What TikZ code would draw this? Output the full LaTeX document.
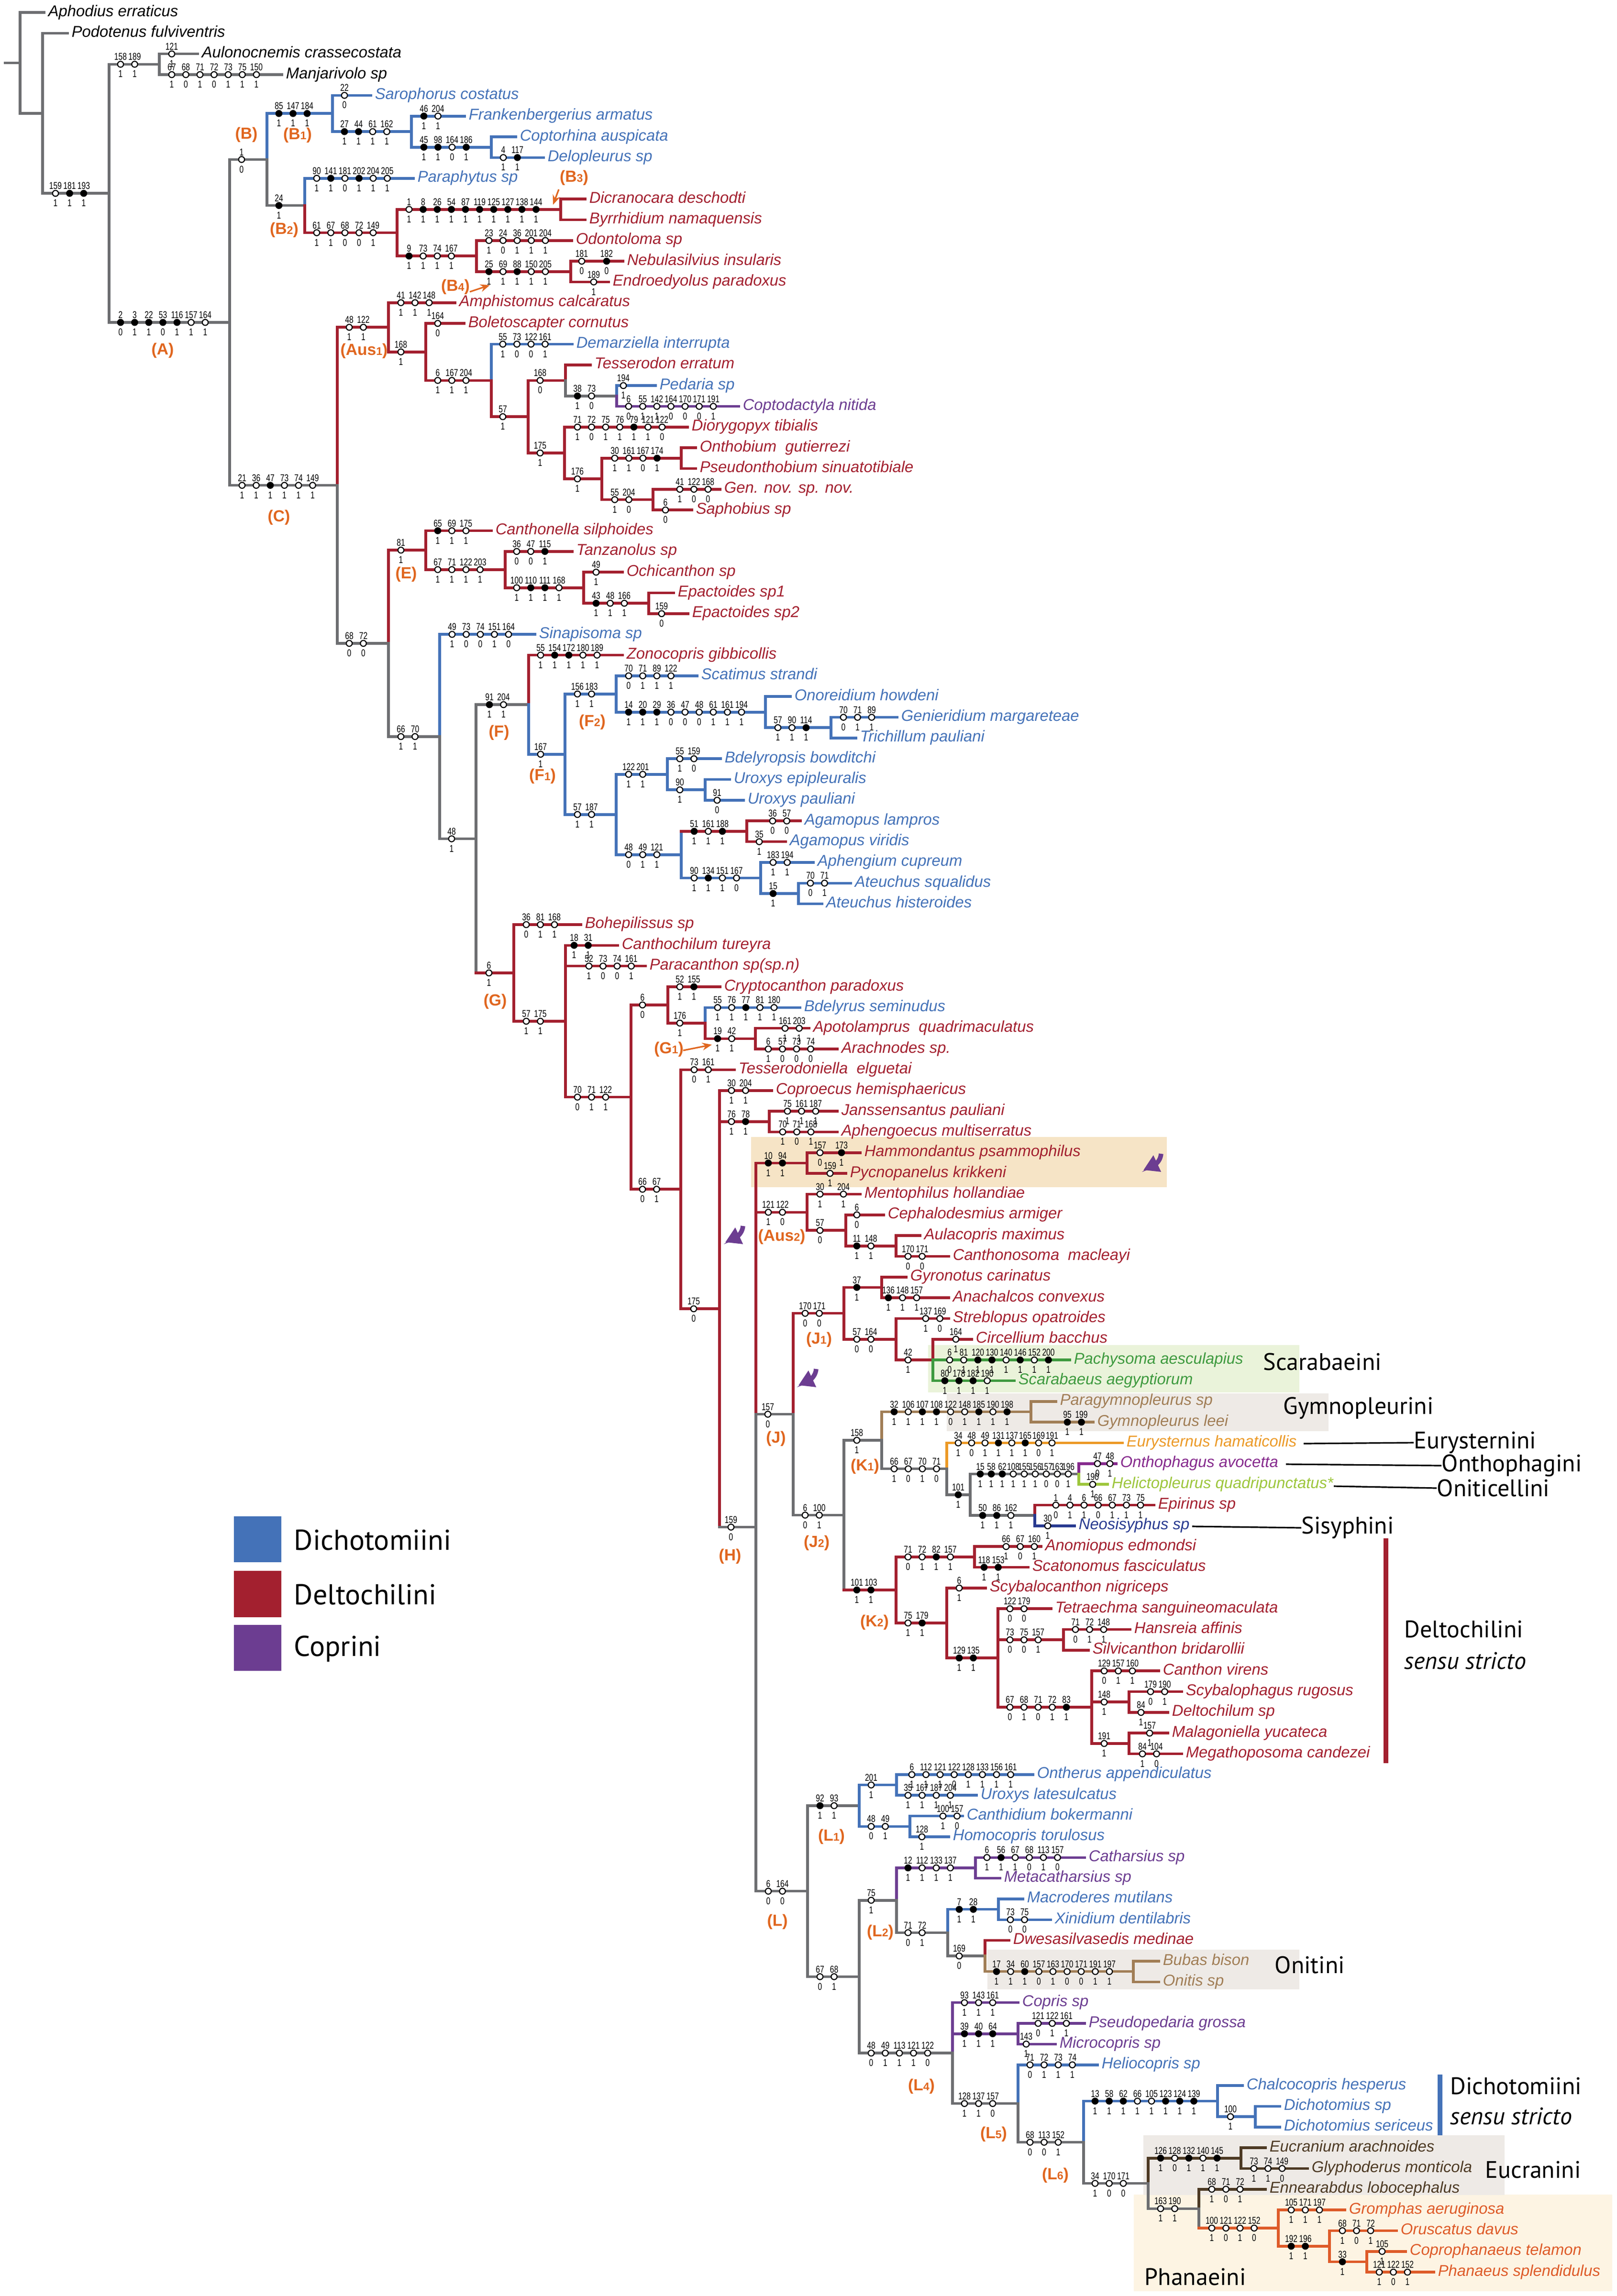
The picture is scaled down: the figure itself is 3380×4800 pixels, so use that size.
\documentclass[tikz,border=0pt]{standalone}
\usepackage{fontspec}
\setmainfont{Liberation Sans}
\newfontfamily\numfont[FakeStretch=0.75]{Liberation Sans}
\newfontfamily\tribefont{PT Sans}
\usetikzlibrary{arrows.meta}
\definecolor{cG}{HTML}{6D6E71}
\definecolor{cB}{HTML}{4472B8}
\definecolor{cR}{HTML}{A3202F}
\definecolor{cP}{HTML}{6C3D91}
\definecolor{cGr}{HTML}{3E9A3F}
\definecolor{cTn}{HTML}{A17E56}
\definecolor{cOr}{HTML}{EC9A27}
\definecolor{cMg}{HTML}{862A8D}
\definecolor{cYg}{HTML}{9DC63C}
\definecolor{cNv}{HTML}{283A90}
\definecolor{cBr}{HTML}{4D3A24}
\definecolor{cPh}{HTML}{DE5B29}
\definecolor{cL}{HTML}{E0661F}
\definecolor{cHam}{HTML}{F6E4C6}
\definecolor{cSca}{HTML}{EAF3DA}
\definecolor{cBox}{HTML}{EEEAE6}
\definecolor{cPhb}{HTML}{FDF4E3}
\tikzset{
 br/.style={line width=1.4pt, line cap=rect},
 tl/.style={font=\fontsize{8.2pt}{9pt}\selectfont\itshape, anchor=base west, inner sep=0pt, xshift=2pt, yshift=-2pt},
 co/.style={circle, draw=black, fill=white, line width=0.55pt, minimum size=3.1pt, inner sep=0pt},
 cf/.style={circle, draw=black, fill=black, line width=0.55pt, minimum size=3.1pt, inner sep=0pt},
 nt/.style={font=\numfont\fontsize{5.2pt}{6pt}\selectfont, anchor=base, inner sep=0pt, yshift=2.1pt},
 nb/.style={font=\numfont\fontsize{5.2pt}{6pt}\selectfont, anchor=base, inner sep=0pt, yshift=-6.9pt},
 clab/.style={font=\bfseries\fontsize{8.4pt}{9pt}\selectfont, text=cL, inner sep=0pt},
 trib/.style={font=\tribefont\fontsize{12.5pt}{14pt}\selectfont, anchor=west, inner sep=0pt},
 legt/.style={font=\tribefont\fontsize{15pt}{17pt}\selectfont, anchor=west, inner sep=0pt},
 parr/.style={cP, line width=2.4pt, -{Triangle[length=8pt,width=9pt]}},
 oarr/.style={cL, line width=0.8pt, -{Stealth[length=5pt,width=4pt]}}
}
\newcommand\Sb[1]{{\fontsize{5.8pt}{6pt}\selectfont #1}}
\newcommand\Hb[4]{\draw[br,#4] (#1,#3) -- (#2,#3);}
\newcommand\Vb[4]{\draw[br,#4] (#1,#2) -- (#1,#3);}
\newcommand\Tip[6]{\draw[br,#4] (#1,#3) -- (#2,#3); \node[tl,text=#5] at (#2,#3) {#6};}
\newcommand\Mk[5]{\ifnum#5=1\relax\node[cf] at (#1,#2) {};\else\node[co] at (#1,#2) {};\fi
 \node[nt] at (#1,#2) {#3}; \node[nb] at (#1,#2) {#4};}
\newcommand\Mks[4][29.5]{\foreach \ta/\ba/\fa [count=\kk from 0] in {#4}{\Mk{#2+#1*\kk}{#3}{\ta}{\ba}{\fa}}}
\begin{document}
\begin{tikzpicture}[x=0.25pt,y=-10.835pt]
\begin{scope}[y=-0.25pt,yshift=-4.335pt]
 \path[use as bounding box, fill=white] (0,0) rectangle (3380,4800);
 \fill[cHam] (1570,2377) rectangle (2439,2482);
 \fill[cSca] (1940,2812) rectangle (2716,2911);
 \fill[cBox] (1979,2913) rectangle (2777,2992);
 \fill[cBox] (2064,4076) rectangle (2716,4159);
 \fill[cPhb] (2370,4588) rectangle (3370,4790);
 \fill[cBox] (2390,4464) rectangle (3145,4589);
\end{scope}
% ---------- root and outgroups
\draw[br,cG] (11,3.4315) -- (42,3.4315);
\Vb{42}{1}{5.8631}{cG}
\Tip{42}{92}{1}{cG}{black}{Aphodius erraticus}
\Hb{42}{89}{5.8631}{cG}
\Vb{89}{2}{9.7261}{cG}
\Tip{89}{141}{2}{cG}{black}{Podotenus fulviventris}
\Hb{89}{228}{9.7261}{cG} \Mks{116}{9.7261}{159/1/0,181/1/1,193/1/1}
\Vb{228}{3.5}{15.9522}{cG}
\Hb{228}{333}{3.5}{cG} \Mks{252}{3.5}{158/1/0,189/1/0}
\Vb{333}{3}{4}{cG}
\Tip{333}{413}{3}{cG}{black}{Aulonocnemis crassecostata} \Mks{359}{3}{121/1/0}
\Tip{333}{589}{4}{cG}{black}{Manjarivolo sp} \Mks{359}{4}{67/1/0,68/0/0,71/1/0,72/0/0,73/1/0,75/1/0,150/1/0}
\Hb{228}{480}{15.9522}{cG} \Mks{252}{15.9522}{2/0/1,3/1/1,22/1/1,53/0/1,116/1/1,157/1/0,164/1/0}
\Vb{480}{8.0938}{23.8107}{cG}
% ---------- B
\Hb{480}{558}{8.0938}{cG} \Mks{505}{8.0938}{1/0/0}
\Vb{558}{5.875}{8.0938}{cB} \Vb{558}{8.0938}{10.3125}{cG}
\Hb{558}{695}{5.875}{cB} \Mks{583}{5.875}{85/1/1,147/1/1,184/1/1}
\Vb{695}{5}{6.75}{cB}
\Tip{695}{775}{5}{cB}{cB}{Sarophorus costatus} \Mks{720}{5}{22/0/0}
\Hb{695}{860}{6.75}{cB} \Mks{720}{6.75}{27/1/1,44/1/1,61/1/0,162/1/0}
\Vb{860}{6}{7.5}{cB}
\Tip{860}{971}{6}{cB}{cB}{Frankenbergerius armatus} \Mks{886}{6}{46/1/1,204/1/0}
\Hb{860}{1027}{7.5}{cB} \Mks{886}{7.5}{45/1/1,98/1/1,164/0/0,186/1/1}
\Vb{1027}{7}{8}{cB}
\Tip{1027}{1078}{7}{cB}{cB}{Coptorhina auspicata}
\Tip{1027}{1136}{8}{cB}{cB}{Delopleurus sp} \Mks{1052}{8}{4/1/0,117/1/1}
\Hb{558}{637}{10.3125}{cG} \Mks{583}{10.3125}{24/1/1}
\Vb{637}{9}{10.3125}{cB} \Vb{637}{10.3125}{11.625}{cR}
\Tip{637}{864}{9}{cB}{cB}{Paraphytus sp} \Mks{662}{9}{90/1/0,141/1/1,181/0/0,202/1/1,204/1/0,205/1/0}
\Hb{637}{830}{11.625}{cR} \Mks{662}{11.625}{61/1/0,67/1/0,68/0/0,72/0/0,149/1/0}
\Vb{830}{10.5}{12.75}{cR}
\Hb{830}{1172}{10.5}{cR} \Mks{855}{10.5}{1/1/0,8/1/1,26/1/1,54/1/1,87/1/1,119/1/1,125/1/1,127/1/1,138/1/1,144/1/1}
\Vb{1172}{10}{11}{cR}
\Tip{1172}{1223}{10}{cR}{cR}{Dicranocara deschodti}
\Tip{1172}{1223}{11}{cR}{cR}{Byrrhidium namaquensis}
\Hb{830}{996}{12.75}{cR} \Mks{855}{12.75}{9/1/1,73/1/0,74/1/0,167/1/0}
\Vb{996}{12}{13.5}{cR}
\Tip{996}{1195}{12}{cR}{cR}{Odontoloma sp} \Mks{1022}{12}{23/1/0,24/0/0,36/1/0,201/1/0,204/1/0}
\Hb{996}{1193}{13.5}{cR} \Mks{1022}{13.5}{25/1/1,69/1/0,88/1/1,150/1/0,205/1/0}
\Vb{1193}{13}{14}{cR}
\Tip{1193}{1302}{13}{cR}{cR}{Nebulasilvius insularis} \Mks[52]{1216}{13}{181/0/0,182/0/1}
\Tip{1193}{1272}{14}{cR}{cR}{Endroedyolus paradoxus} \Mks{1241}{14}{189/1/0}
% ---------- C / Aus1
\Hb{480}{705}{23.8107}{cG} \Mks{506}{23.8107}{21/1/0,36/1/0,47/1/1,73/1/0,74/1/0,149/1/0}
\Vb{705}{16.1875}{23.8107}{cR} \Vb{705}{23.8107}{31.4338}{cG}
\Hb{705}{812}{16.1875}{cR} \Mks{730}{16.1875}{48/1/0,122/1/0}
\Vb{812}{15}{17.375}{cR}
\Tip{812}{951}{15}{cR}{cR}{Amphistomus calcaratus} \Mks{838}{15}{41/1/0,142/1/0,148/1/0}
\Hb{812}{890}{17.375}{cR} \Mks{838}{17.375}{168/1/0}
\Vb{890}{16}{18.75}{cR}
\Tip{890}{970}{16}{cR}{cR}{Boletoscapter cornutus} \Mks{915}{16}{164/0/0}
\Hb{890}{1027}{18.75}{cR} \Mks{915}{18.75}{6/1/0,167/1/0,204/1/0}
\Vb{1027}{17}{18.75}{cB} \Vb{1027}{18.75}{20.5}{cR}
\Tip{1027}{1196}{17}{cB}{cB}{Demarziella interrupta} \Mks{1051}{17}{55/1/0,73/0/0,122/0/0,161/1/0}
\Hb{1027}{1104}{20.5}{cR} \Mks{1051}{20.5}{57/1/0}
\Vb{1104}{18.75}{22.25}{cR}
\Hb{1104}{1182}{18.75}{cR} \Mks{1129}{18.75}{168/0/0}
\Vb{1182}{18}{18.75}{cR} \Vb{1182}{18.75}{19.5}{cG}
\Tip{1182}{1234}{18}{cR}{cR}{Tesserodon erratum}
\Hb{1182}{1289}{19.5}{cG} \Mks{1207}{19.5}{38/1/1,73/0/0}
\Vb{1289}{19}{19.5}{cB} \Vb{1289}{19.5}{20}{cP}
\Tip{1289}{1370}{19}{cB}{cB}{Pedaria sp} \Mks{1303}{19}{194/1/0}
\Tip{1289}{1544}{20}{cP}{cP}{Coptodactyla nitida} \Mks{1314}{20}{6/0/0,55/1/0,142/1/0,164/0/0,170/0/0,171/0/0,191/1/0}
\Hb{1104}{1180}{22.25}{cR} \Mks{1129}{22.25}{175/1/0}
\Vb{1180}{21}{23.5}{cR}
\Tip{1180}{1437}{21}{cR}{cR}{Diorygopyx tibialis} \Mks{1207}{21}{71/1/0,72/0/0,75/1/0,76/1/0,79/1/1,121/1/0,122/0/0}
\Hb{1180}{1258}{23.5}{cR} \Mks{1207}{23.5}{176/1/0}
\Vb{1258}{22.5}{24.5}{cR}
\Hb{1258}{1424}{22.5}{cR} \Mks{1285}{22.5}{30/1/0,161/1/0,167/0/0,174/1/1}
\Vb{1424}{22}{23}{cR}
\Tip{1424}{1454}{22}{cR}{cR}{Onthobium\ \ gutierrezi}
\Tip{1424}{1454}{23}{cR}{cR}{Pseudonthobium sinuatotibiale}
\Hb{1258}{1365}{24.5}{cR} \Mks{1285}{24.5}{55/1/0,204/0/0}
\Vb{1365}{24}{25}{cR}
\Tip{1365}{1505}{24}{cR}{cR}{Gen. nov. sp. nov.} \Mks{1421}{24}{41/1/0,122/0/0,168/0/0}
\Tip{1365}{1446}{25}{cR}{cR}{Saphobius sp} \Mks{1391}{25}{6/0/0}
% ---------- E
\Hb{705}{812}{31.4338}{cG} \Mks{730}{31.4338}{68/0/0,72/0/0}
\Vb{812}{26.9375}{31.4338}{cR} \Vb{812}{31.4338}{35.9302}{cG}
\Hb{812}{890}{26.9375}{cR} \Mks{838}{26.9375}{81/1/0}
\Vb{890}{26}{27.875}{cR}
\Tip{890}{1027}{26}{cR}{cR}{Canthonella silphoides} \Mks{915}{26}{65/1/1,69/1/0,175/1/0}
\Hb{890}{1056}{27.875}{cR} \Mks{915}{27.875}{67/1/0,71/1/0,122/1/0,203/1/0}
\Vb{1056}{27}{28.75}{cR}
\Tip{1056}{1196}{27}{cR}{cR}{Tanzanolus sp} \Mks{1080}{27}{36/0/0,47/0/0,115/1/1}
\Hb{1056}{1220}{28.75}{cR} \Mks{1080}{28.75}{100/1/0,110/1/1,111/1/1,168/1/0}
\Vb{1220}{28}{29.5}{cR}
\Tip{1220}{1301}{28}{cR}{cR}{Ochicanthon sp} \Mks{1246}{28}{49/1/0}
\Hb{1220}{1356}{29.5}{cR} \Mks{1246}{29.5}{43/1/1,48/1/0,166/1/0}
\Vb{1356}{29}{30}{cR}
\Tip{1356}{1408}{29}{cR}{cR}{Epactoides sp1}
\Tip{1356}{1438}{30}{cR}{cR}{Epactoides sp2} \Mks{1383}{30}{159/0/0}
% ---------- Sinapisoma, F
\Hb{812}{919}{35.9302}{cG} \Mks{838}{35.9302}{66/1/0,70/1/0}
\Vb{919}{31}{35.9302}{cB} \Vb{919}{35.9302}{40.8603}{cG}
\Tip{919}{1118}{31}{cB}{cB}{Sinapisoma sp} \Mks{945}{31}{49/1/0,73/0/0,74/0/0,151/1/0,164/0/0}
\Hb{919}{995}{40.8603}{cG} \Mks{944}{40.8603}{48/1/0}
\Vb{995}{34.3906}{47.3301}{cG}
\Hb{995}{1105}{34.3906}{cG} \Mks{1023}{34.3906}{91/1/1,204/1/0}
\Vb{1105}{32}{34.3906}{cR} \Vb{1105}{34.3906}{36.7813}{cB}
\Tip{1105}{1301}{32}{cR}{cR}{Zonocopris gibbicollis} \Mks{1130}{32}{55/1/0,154/1/1,172/1/1,180/1/0,189/1/0}
\Hb{1105}{1181}{36.7813}{cB} \Mks{1130}{36.7813}{167/1/0}
\Vb{1181}{33.875}{39.6875}{cB}
\Hb{1181}{1288}{33.875}{cB} \Mks{1207}{33.875}{156/1/0,183/1/0}
\Vb{1288}{33}{34.75}{cB}
\Tip{1288}{1457}{33}{cB}{cB}{Scatimus strandi} \Mks{1314}{33}{70/0/0,71/1/0,89/1/0,122/1/0}
\Hb{1288}{1600}{34.75}{cB} \Mks{1314}{34.75}{14/1/1,20/1/1,29/1/1,36/0/0,47/0/0,48/0/0,61/1/0,161/1/0,194/1/0}
\Vb{1600}{34}{35.5}{cB}
\Tip{1600}{1652}{34}{cB}{cB}{Onoreidium howdeni}
\Hb{1600}{1737}{35.5}{cB} \Mks{1626}{35.5}{57/1/0,90/1/0,114/1/1}
\Vb{1737}{35}{36}{cB}
\Tip{1737}{1875}{35}{cB}{cB}{Genieridium margareteae} \Mks{1763}{35}{70/0/0,71/1/0,89/1/0}
\Tip{1737}{1789}{36}{cB}{cB}{Trichillum pauliani}
\Hb{1181}{1288}{39.6875}{cB} \Mks{1207}{39.6875}{57/1/0,187/1/0}
\Vb{1288}{37.75}{41.625}{cB}
\Hb{1288}{1395}{37.75}{cB} \Mks{1314}{37.75}{122/1/0,201/1/0}
\Vb{1395}{37}{38.5}{cB}
\Tip{1395}{1506}{37}{cB}{cB}{Bdelyropsis bowditchi} \Mks{1421}{37}{55/1/0,159/0/0}
\Hb{1395}{1474}{38.5}{cB} \Mks{1421}{38.5}{90/1/0}
\Vb{1474}{38}{39}{cB}
\Tip{1474}{1525}{38}{cB}{cB}{Uroxys epipleuralis}
\Tip{1474}{1554}{39}{cB}{cB}{Uroxys pauliani} \Mks{1499}{39}{91/0/0}
\Hb{1288}{1424}{41.625}{cB} \Mks{1314}{41.625}{48/0/0,49/1/0,121/1/0}
\Vb{1424}{40.5}{42.75}{cB}
\Hb{1424}{1561}{40.5}{cR} \Mks{1451}{40.5}{51/1/1,161/1/0,188/1/1}
\Vb{1561}{40}{41}{cR}
\Tip{1561}{1673}{40}{cR}{cB}{Agamopus lampros} \Mks{1615}{40}{36/0/0,57/0/0}
\Tip{1561}{1642}{41}{cR}{cB}{Agamopus viridis} \Mks{1587}{41}{35/1/0}
\Hb{1424}{1590}{42.75}{cB} \Mks{1451}{42.75}{90/1/0,134/1/1,151/1/0,167/0/0}
\Vb{1590}{42}{43.5}{cB}
\Tip{1590}{1700}{42}{cB}{cB}{Aphengium cupreum} \Mks{1616}{42}{183/1/0,194/1/0}
\Hb{1590}{1669}{43.5}{cB} \Mks{1616}{43.5}{15/1/1}
\Vb{1669}{43}{44}{cB}
\Tip{1669}{1778}{43}{cB}{cB}{Ateuchus squalidus} \Mks{1694}{43}{70/0/0,71/1/0}
\Tip{1669}{1718}{44}{cB}{cB}{Ateuchus histeroides}
% ---------- G
\Hb{995}{1074}{47.3301}{cR} \Mks{1022}{47.3301}{6/1/0}
\Vb{1074}{45}{49.6601}{cR}
\Tip{1074}{1214}{45}{cR}{cR}{Bohepilissus sp} \Mks{1100}{45}{36/0/0,81/1/0,168/1/0}
\Hb{1074}{1182}{49.6601}{cR} \Mks{1100}{49.6601}{57/1/0,175/1/0}
\Vb{1182}{46}{53.3203}{cR}
\Tip{1182}{1291}{46}{cR}{cR}{Canthochilum tureyra} \Mks{1200}{46}{18/1/1,31/1/1}
\Tip{1182}{1349}{47}{cR}{cR}{Paracanthon sp(sp.n)} \Mks{1231}{47}{52/1/0,73/0/0,74/0/0,161/1/0}
\Hb{1182}{1319}{53.3203}{cR} \Mks{1207}{53.3203}{70/0/0,71/1/0,122/1/0}
\Vb{1319}{48.875}{57.7655}{cR}
\Hb{1319}{1396}{48.875}{cR} \Mks{1343}{48.875}{6/0/0}
\Vb{1396}{48}{49.75}{cR}
\Tip{1396}{1505}{48}{cR}{cR}{Cryptocanthon paradoxus} \Mks{1421}{48}{52/1/0,155/1/1}
\Hb{1396}{1474}{49.75}{cR} \Mks{1421}{49.75}{176/1/0}
\Vb{1474}{49}{49.75}{cB} \Vb{1474}{49.75}{50.5}{cR}
\Tip{1474}{1672}{49}{cB}{cB}{Bdelyrus seminudus} \Mks{1500}{49}{55/1/0,76/1/0,77/1/1,81/1/0,180/1/0}
\Hb{1474}{1579}{50.5}{cR} \Mks{1500}{50.5}{19/1/1,42/1/0}
\Vb{1579}{50}{51}{cR}
\Tip{1579}{1691}{50}{cR}{cR}{Apotolamprus\ \ quadrimaculatus} \Mks{1641}{50}{161/1/0,203/1/0}
\Tip{1579}{1750}{51}{cR}{cR}{Arachnodes sp.} \Mks{1606}{51}{6/1/0,57/0/0,73/0/0,74/0/0}
\Hb{1319}{1423}{57.7655}{cR} \Mks{1343}{57.7655}{66/0/0,67/1/0}
\Vb{1423}{52}{63.5310}{cR}
\Tip{1423}{1535}{52}{cR}{cR}{Tesserodoniella\ \ elguetai} \Mks{1451}{52}{73/0/0,161/1/0}
\Hb{1423}{1504}{63.5310}{cR} \Mks{1450}{63.5310}{175/0/0}
\Vb{1504}{53}{74.0620}{cR}
\Tip{1504}{1613}{53}{cR}{cR}{Coproecus hemisphaericus} \Mks{1529}{53}{30/1/0,204/1/0}
\Hb{1504}{1608}{54.5}{cR} \Mks{1529}{54.5}{76/1/0,78/1/1}
\Vb{1608}{54}{55}{cR}
\Tip{1608}{1750}{54}{cR}{cR}{Janssensantus pauliani} \Mks{1646}{54}{75/1/0,161/1/0,187/1/0}
\Tip{1608}{1750}{55}{cR}{cR}{Aphengoecus multiserratus} \Mks{1636}{55}{70/1/0,71/0/0,168/1/0}
% ---------- H
\Hb{1504}{1580}{74.0620}{cG} \Mks{1528}{74.0620}{159/0/0}
\Vb{1580}{56.5}{68.6172}{cR} \Vb{1580}{68.6172}{91.6240}{cG}
\Hb{1580}{1687}{56.5}{cR} \Mks{1606}{56.5}{10/1/1,94/1/1}
\Vb{1687}{56}{57}{cR}
\Tip{1687}{1798}{56}{cR}{cR}{Hammondantus psammophilus} \Mks[45]{1714}{56}{157/0/0,173/1/1}
\Tip{1687}{1768}{57}{cR}{cR}{Pycnopanelus krikkeni} \Mks{1735}{57}{159/1/0}
\Hb{1580}{1687}{58.875}{cR} \Mks{1606}{58.875}{121/1/0,122/0/0}
\Vb{1687}{58}{59.75}{cR}
\Tip{1687}{1798}{58}{cR}{cR}{Mentophilus hollandiae} \Mks[49]{1714}{58}{30/1/0,204/1/0}
\Hb{1687}{1768}{59.75}{cR} \Mks{1714}{59.75}{57/0/0}
\Vb{1768}{59}{60.5}{cR}
\Tip{1768}{1847}{59}{cR}{cR}{Cephalodesmius armiger} \Mks{1791}{59}{6/0/0}
\Hb{1768}{1873}{60.5}{cR} \Mks{1791}{60.5}{11/1/1,148/1/0}
\Vb{1873}{60}{61}{cR}
\Tip{1873}{1923}{60}{cR}{cR}{Aulacopris maximus}
\Tip{1873}{1983}{61}{cR}{cR}{Canthonosoma\ \ macleayi} \Mks{1898}{61}{170/0/0,171/0/0}
% ---------- J
\Hb{1580}{1658}{68.6172}{cG} \Mks{1605}{68.6172}{157/0/0}
\Vb{1658}{63.75}{68.6172}{cR} \Vb{1658}{68.6172}{73.4844}{cG}
\Hb{1658}{1764}{63.75}{cR} \Mks{1683}{63.75}{170/0/0,171/0/0}
\Vb{1764}{62.5}{65}{cR}
\Hb{1764}{1843}{62.5}{cR} \Mks{1791}{62.5}{37/1/1}
\Vb{1843}{62}{63}{cR}
\Tip{1843}{1894}{62}{cR}{cR}{Gyronotus carinatus}
\Tip{1843}{1983}{63}{cR}{cR}{Anachalcos convexus} \Mks{1857}{63}{136/1/1,148/1/0,157/1/0}
\Hb{1764}{1873}{65}{cR} \Mks{1791}{65}{57/0/0,164/0/0}
\Vb{1873}{64}{66}{cR}
\Tip{1873}{1983}{64}{cR}{cR}{Streblopus opatroides} \Mks{1935}{64}{137/1/0,169/0/0}
\Hb{1873}{1950}{66}{cR} \Mks{1898}{66}{42/1/0}
\Vb{1950}{65}{66}{cR} \Vb{1950}{66}{67}{cGr}
\Tip{1950}{2031}{65}{cR}{cR}{Circellium bacchus} \Mks{1998}{65}{164/1/0}
\Tip{1950}{2236}{66}{cGr}{cGr}{Pachysoma aesculapius} \Mks{1985}{66}{6/0/0,81/1/0,120/1/1,130/1/1,140/1/0,146/1/1,152/1/0,200/1/1}
\Tip{1950}{2120}{67}{cGr}{cGr}{Scarabaeus aegyptiorum} \Mks{1975}{67}{80/1/1,178/1/1,182/1/1,190/1/0}
\Hb{1658}{1764}{73.4844}{cG} \Mks{1683}{73.4844}{6/0/0,100/1/0}
\Vb{1764}{69.875}{77.0938}{cG}
\Hb{1764}{1843}{69.875}{cG} \Mks{1791}{69.875}{158/1/0}
\Vb{1843}{68.5}{69.875}{cTn} \Vb{1843}{69.875}{71.25}{cG}
\Hb{1843}{2155}{68.5}{cTn} \Mks{1869}{68.5}{32/1/1,106/1/0,107/1/1,108/1/1,122/0/0,148/1/0,185/1/1,190/1/0,198/1/1}
\Vb{2155}{68}{69}{cTn}
\Tip{2155}{2207}{68}{cTn}{cTn}{Paragymnopleurus sp}
\Tip{2155}{2285}{69}{cTn}{cTn}{Gymnopleurus leei} \Mks{2231}{69}{95/1/1,199/1/1}
\Hb{1843}{1979}{71.25}{cG} \Mks{1869}{71.25}{66/1/0,67/0/0,70/1/0,71/0/0}
\Vb{1979}{70}{71.25}{cOr} \Vb{1979}{71.25}{72.5}{cG}
\Tip{1979}{2346}{70}{cOr}{cOr}{Eurysternus hamaticollis} \Mks[28]{2003}{70}{34/1/0,48/0/0,49/1/0,131/1/1,137/1/0,165/1/1,169/0/0,191/1/0}
\Hb{1979}{2028}{72.5}{cG} \Mks{2003}{72.5}{101/1/1}
\Vb{2028}{71.5}{73.5}{cG}
\Hb{2028}{2255}{71.5}{cG} \Mks[23]{2049}{71.5}{15/1/1,58/1/1,62/1/1,108/1/0,155/1/0,156/1/0,157/0/0,163/0/0,196/1/0}
\Vb{2255}{71}{71.5}{cMg} \Vb{2255}{71.5}{72}{cYg}
\Tip{2255}{2333}{71}{cMg}{cMg}{Onthophagus avocetta} \Mks[26]{2294}{71}{47/0/0,48/1/0}
\Tip{2255}{2315}{72}{cYg}{cYg}{Helictopleurus quadripunctatus*} \Mks{2284}{72}{190/1/0}
\Hb{2028}{2163}{73.5}{cG} \Mks{2054}{73.5}{50/1/1,86/1/1,162/1/0}
\Vb{2163}{73}{73.5}{cR} \Vb{2163}{73.5}{74}{cNv}
\Tip{2163}{2412}{73}{cR}{cR}{Epirinus sp} \Mks{2207}{73}{1/0/0,4/1/0,6/1/0,66/0/0,67/1/0,73/1/0,75/1/0}
\Tip{2163}{2246}{74}{cNv}{cNv}{Neosisyphus sp} \Mks{2190}{74}{30/1/0}
% ---------- K2
\Hb{1764}{1873}{77.0938}{cR} \Mks{1791}{77.0938}{101/1/1,103/1/1}
\Vb{1873}{75.5}{78.6875}{cR}
\Hb{1873}{2037}{75.5}{cR} \Mks{1898}{75.5}{71/0/0,72/1/0,82/1/1,157/1/0}
\Vb{2037}{75}{76}{cR}
\Tip{2037}{2176}{75}{cR}{cR}{Anomiopus edmondsi} \Mks{2103}{75}{66/1/0,67/0/0,160/1/0}
\Tip{2037}{2149}{76}{cR}{cR}{Scatonomus fasciculatus} \Mks{2057}{76}{118/1/1,153/1/1}
\Hb{1873}{1979}{78.6875}{cR} \Mks{1898}{78.6875}{75/1/0,179/1/1}
\Vb{1979}{77}{80.375}{cR}
\Tip{1979}{2060}{77}{cR}{cR}{Scybalocanthon nigriceps} \Mks{2005}{77}{6/1/0}
\Hb{1979}{2086}{80.375}{cR} \Mks{2005}{80.375}{129/1/1,135/1/1}
\Vb{2086}{78}{82.75}{cR}
\Tip{2086}{2197}{78}{cR}{cR}{Tetraechma sanguineomaculata} \Mks{2111}{78}{122/0/0,179/0/0}
\Hb{2086}{2223}{79.5}{cR} \Mks{2111}{79.5}{73/0/0,75/0/0,157/1/0}
\Vb{2223}{79}{80}{cR}
\Tip{2223}{2362}{79}{cR}{cR}{Hansreia affinis} \Mks{2248}{79}{71/0/0,72/1/0,148/1/0}
\Tip{2223}{2275}{80}{cR}{cR}{Silvicanthon bridarollii}
\Hb{2086}{2282}{82.75}{cR} \Mks{2111}{82.75}{67/0/0,68/1/0,71/0/0,72/1/0,83/1/1}
\Vb{2282}{81}{84.5}{cR}
\Tip{2282}{2422}{81}{cR}{cR}{Canthon virens} \Mks{2308}{81}{129/0/0,157/1/0,160/1/0}
\Hb{2282}{2360}{82.5}{cR} \Mks{2308}{82.5}{148/1/0}
\Vb{2360}{82}{83}{cR}
\Tip{2360}{2470}{82}{cR}{cR}{Scybalophagus rugosus} \Mks{2405}{82}{179/0/0,190/1/0}
\Tip{2360}{2441}{83}{cR}{cR}{Deltochilum sp} \Mks{2385}{83}{84/1/0}
\Hb{2282}{2360}{84.5}{cR} \Mks{2308}{84.5}{191/1/0}
\Vb{2360}{84}{85}{cR}
\Tip{2360}{2441}{84}{cR}{cR}{Malagoniella yucateca} \Mks{2403}{84}{157/1/0}
\Tip{2360}{2470}{85}{cR}{cR}{Megathoposoma candezei} \Mks{2388}{85}{84/1/0,104/0/0}
% ---------- L
\Hb{1580}{1688}{91.6240}{cG} \Mks{1606}{91.6240}{6/0/0,164/0/0}
\Vb{1688}{87.5}{95.7480}{cG}
\Hb{1688}{1796}{87.5}{cG} \Mks{1714}{87.5}{92/1/1,93/1/0}
\Vb{1796}{86.5}{88.5}{cB}
\Hb{1796}{1874}{86.5}{cB} \Mks{1821}{86.5}{201/1/0}
\Vb{1874}{86}{87}{cB}
\Tip{1874}{2159}{86}{cB}{cB}{Ontherus appendiculatus} \Mks{1906}{86}{6/1/0,112/1/0,121/1/0,122/0/0,128/1/0,133/1/0,156/1/0,161/1/0}
\Tip{1874}{2041}{87}{cB}{cB}{Uroxys latesulcatus} \Mks{1898}{87}{35/1/0,167/1/0,187/1/0,204/1/0}
\Hb{1796}{1902}{88.5}{cB} \Mks{1821}{88.5}{48/0/0,49/1/0}
\Vb{1902}{88}{89}{cB}
\Tip{1902}{2012}{88}{cB}{cB}{Canthidium bokermanni} \Mks{1971}{88}{100/1/0,157/0/0}
\Tip{1902}{1983}{89}{cB}{cB}{Homocopris torulosus} \Mks{1927}{89}{128/1/0}
\Hb{1688}{1796}{95.7480}{cG} \Mks{1714}{95.7480}{67/0/0,68/1/0}
\Vb{1796}{92.0625}{99.4336}{cG}
\Hb{1796}{1874}{92.0625}{cG} \Mks{1821}{92.0625}{75/1/0}
\Vb{1874}{90.5}{92.0625}{cP} \Vb{1874}{92.0625}{93.625}{cG}
\Hb{1874}{2039}{90.5}{cP} \Mks{1898}{90.5}{12/1/1,112/1/0,133/1/0,137/1/0}
\Vb{2039}{90}{91}{cP}
\Tip{2039}{2267}{90}{cP}{cP}{Catharsius sp} \Mks{2063}{90}{6/1/0,56/1/1,67/1/0,68/0/0,113/1/0,157/0/0}
\Tip{2039}{2090}{91}{cP}{cP}{Metacatharsius sp}
\Hb{1874}{1981}{93.625}{cG} \Mks{1898}{93.625}{71/0/0,72/1/0}
\Vb{1981}{92.5}{93.625}{cB} \Vb{1981}{93.625}{94.75}{cG}
\Hb{1981}{2087}{92.5}{cB} \Mks{2005}{92.5}{7/1/1,28/1/1}
\Vb{2087}{92}{93}{cB}
\Tip{2087}{2138}{92}{cB}{cB}{Macroderes mutilans}
\Tip{2087}{2196}{93}{cB}{cB}{Xinidium dentilabris} \Mks{2112}{93}{73/0/0,75/0/0}
\Hb{1981}{2059}{94.75}{cG} \Mks{2005}{94.75}{169/0/0}
\Vb{2059}{94}{94.75}{cR} \Vb{2059}{94.75}{95.5}{cTn}
\Tip{2059}{2109}{94}{cR}{cR}{Dwesasilvasedis medinae}
\Hb{2059}{2369}{95.5}{cTn} \Mks{2083}{95.5}{17/1/1,34/1/0,60/1/1,157/0/0,163/1/0,170/0/0,171/0/0,191/1/0,197/1/0}
\Vb{2369}{95}{96}{cTn}
\Tip{2369}{2422}{95}{cTn}{cTn}{Bubas bison}
\Tip{2369}{2422}{96}{cTn}{cTn}{Onitis sp}
\Hb{1796}{1991}{99.4336}{cG} \Mks{1821}{99.4336}{48/0/0,49/1/0,113/1/0,121/1/0,122/0/0}
\Vb{1991}{97}{99.4336}{cP} \Vb{1991}{99.4336}{101.8672}{cG}
\Tip{1991}{2128}{97}{cP}{cP}{Copris sp} \Mks{2016}{97}{93/1/0,143/1/0,161/1/0}
\Hb{1991}{2128}{98.5}{cP} \Mks{2016}{98.5}{39/1/1,40/1/1,64/1/1}
\Vb{2128}{98}{99}{cP}
\Tip{2128}{2267}{98}{cP}{cP}{Pseudopedaria grossa} \Mks{2170}{98}{121/0/0,122/1/0,161/1/0}
\Tip{2128}{2206}{99}{cP}{cP}{Microcopris sp} \Mks{2145}{99}{143/1/0}
\Hb{1991}{2128}{101.8672}{cG} \Mks{2016}{101.8672}{128/1/0,137/1/0,157/0/0}
\Vb{2128}{100}{101.8672}{cB} \Vb{2128}{101.8672}{103.7344}{cG}
\Tip{2128}{2294}{100}{cB}{cB}{Heliocopris sp} \Mks{2153}{100}{71/0/0,72/1/0,73/1/0,74/1/0}
\Hb{2128}{2265}{103.7344}{cG} \Mks{2153}{103.7344}{68/0/0,113/0/0,152/1/0}
\Vb{2265}{101.75}{103.7344}{cB} \Vb{2265}{103.7344}{105.7188}{cG}
\Hb{2265}{2545}{101.75}{cB} \Mks{2289}{101.75}{13/1/1,58/1/1,62/1/1,66/1/0,105/1/0,123/1/1,124/1/1,139/1/1}
\Vb{2545}{101}{102.5}{cB}
\Tip{2545}{2597}{101}{cB}{cB}{Chalcocopris hesperus}
\Hb{2545}{2624}{102.5}{cB} \Mks{2572}{102.5}{100/1/0}
\Vb{2624}{102}{103}{cB}
\Tip{2624}{2675}{102}{cB}{cB}{Dichotomius sp}
\Tip{2624}{2675}{103}{cB}{cB}{Dichotomius sericeus}
\Hb{2265}{2400}{105.7188}{cG} \Mks{2289}{105.7188}{34/1/0,170/0/0,171/0/0}
\Vb{2400}{104.5}{105.7188}{cBr} \Vb{2400}{105.7188}{106.9375}{cG}
\Hb{2400}{2594}{104.5}{cBr} \Mks{2426}{104.5}{126/1/1,128/0/0,132/1/1,140/1/0,145/1/1}
\Vb{2594}{104}{105}{cBr}
\Tip{2594}{2645}{104}{cBr}{cBr}{Eucranium arachnoides}
\Tip{2594}{2733}{105}{cBr}{cBr}{Glyphoderus monticola} \Mks{2621}{105}{73/1/0,74/1/0,149/0/0}
\Hb{2400}{2506}{106.9375}{cG} \Mks{2426}{106.9375}{163/1/0,190/1/0}
\Vb{2506}{106}{106.9375}{cBr} \Vb{2506}{106.9375}{107.875}{cG}
\Tip{2506}{2645}{106}{cBr}{cBr}{Ennearabdus lobocephalus} \Mks{2533}{106}{68/1/0,71/0/0,72/1/0}
\Hb{2506}{2672}{107.875}{cPh} \Mks{2533}{107.875}{100/1/0,121/0/0,122/1/0,152/0/0}
\Vb{2672}{107}{108.75}{cPh}
\Tip{2672}{2811}{107}{cPh}{cPh}{Gromphas aeruginosa} \Mks{2699}{107}{105/1/0,171/1/0,197/1/0}
\Hb{2672}{2779}{108.75}{cPh} \Mks{2699}{108.75}{192/1/1,196/1/1}
\Vb{2779}{108}{109.5}{cPh}
\Tip{2779}{2919}{108}{cPh}{cPh}{Oruscatus davus} \Mks{2806}{108}{68/1/0,71/0/0,72/1/0}
\Hb{2779}{2857}{109.5}{cPh} \Mks{2806}{109.5}{33/1/1}
\Vb{2857}{109}{110}{cPh}
\Tip{2857}{2938}{109}{cPh}{cPh}{Coprophanaeus telamon} \Mks{2889}{109}{105/1/0}
\Tip{2857}{2997}{110}{cPh}{cPh}{Phanaeus splendidulus} \Mks{2883}{110}{121/1/0,122/0/0,152/1/0}
% ---------- annotations in pixel coordinates
\begin{scope}[y=-0.25pt,yshift=-4.335pt]
 \node[clab] (lA) at (340,733) {(A)};
 \node[clab] (lB) at (515,282) {(B)};
 \node[clab] (lB1) at (622,283) {(B\Sb{1})};
 \node[clab] (lB2) at (594,481) {(B\Sb{2})};
 \node[clab] (lB3) at (1200,372) {(B\Sb{3})};
 \node[clab] (lB4) at (952,600) {(B\Sb{4})};
 \node[clab] (lAus1) at (761,734) {(Aus\Sb{1})};
 \node[clab] (lC) at (583,1082) {(C)};
 \node[clab] (lE) at (849,1201) {(E)};
 \node[clab] (lF) at (1043,1532) {(F)};
 \node[clab] (lF1) at (1134,1623) {(F\Sb{1})};
 \node[clab] (lF2) at (1238,1510) {(F\Sb{2})};
 \node[clab] (lG) at (1035,2094) {(G)};
 \node[clab] (lG1) at (1398,2194) {(G\Sb{1})};
 \node[clab] (lAus2) at (1634,2586) {(Aus\Sb{2})};
 \node[clab] (lH) at (1526,3254) {(H)};
 \node[clab] (lJ) at (1622,3008) {(J)};
 \node[clab] (lJ1) at (1712,2801) {(J\Sb{1})};
 \node[clab] (lJ2) at (1707,3226) {(J\Sb{2})};
 \node[clab] (lK1) at (1808,3066) {(K\Sb{1})};
 \node[clab] (lK2) at (1828,3392) {(K\Sb{2})};
 \node[clab] (lL) at (1625,4018) {(L)};
 \node[clab] (lL1) at (1738,3840) {(L\Sb{1})};
 \node[clab] (lL2) at (1840,4040) {(L\Sb{2})};
 \node[clab] (lL4) at (1926,4362) {(L\Sb{4})};
 \node[clab] (lL5) at (2077,4462) {(L\Sb{5})};
 \node[clab] (lL6) at (2206,4548) {(L\Sb{6})};
 \coordinate (aB3) at (1156,428);
 \coordinate (aB4) at (1024,596);
 \coordinate (aG1) at (1488,2184);
 \draw[oarr] (1168,396) -- (aB3);
 \draw[oarr] (982,610) -- (aB4);
 \draw[oarr] (1428,2196) -- (aG1);
 \draw[parr] (1553,2563) to[out=-95,in=25] (1516,2597);
 \draw[parr] (1706,2862) to[out=-95,in=25] (1669,2896);
 \draw[parr] (2427,2412) to[out=-95,in=25] (2390,2446);
 % tribe labels
 \node[trib] (tSca) at (2640,2847) {Scarabaeini};
 \node[trib] (tGym) at (2682,2944) {Gymnopleurini};
 \node[trib] (tEur) at (2955,3016) {Eurysternini};
 \node[trib] (tOnt) at (3013,3064) {Onthophagini};
 \node[trib] (tOni) at (3003,3111) {Oniticellini};
 \node[trib] (tSis) at (2720,3194) {Sisyphini};
 \coordinate (eEur) at (2725,3018);
 \coordinate (eOnt) at (2688,3061);
 \coordinate (eOni) at (2788,3107);
 \coordinate (eSis) at (2492,3191);
 \draw[line width=0.8pt] (eEur) -- (tEur.west);
 \draw[line width=0.8pt] (eOnt) -- (tOnt.west);
 \draw[line width=0.8pt] (eOni) -- (tOni.west);
 \draw[line width=0.8pt] (eSis) -- (tSis.west);
 \fill[cR] (2892,3216) rectangle (2902,3686);
 \node[trib] (tDel) at (2935,3406) {Deltochilini};
 \node[trib] (tDel2) at (2935,3472) {\itshape sensu stricto};
 \node[trib] (tOnitini) at (2664,4108) {Onitini};
 \fill[cB] (3005,4337) rectangle (3015,4464);
 \node[trib] (tDic) at (3031,4361) {Dichotomiini};
 \node[trib] (tDic2) at (3031,4424) {\itshape sensu stricto};
 \node[trib] (tEuc) at (3104,4536) {Eucranini};
 \node[trib] (tPha) at (2392,4760) {Phanaeini};
 % legend
 \fill[cB] (489,3170) rectangle (588,3266);
 \fill[cR] (489,3284) rectangle (588,3381);
 \fill[cP] (489,3397) rectangle (588,3493);
 \node[legt] (g1) at (614,3220) {Dichotomiini};
 \node[legt] (g2) at (614,3334) {Deltochilini};
 \node[legt] (g3) at (614,3447) {Coprini};
\end{scope}
\end{tikzpicture}
\end{document}
